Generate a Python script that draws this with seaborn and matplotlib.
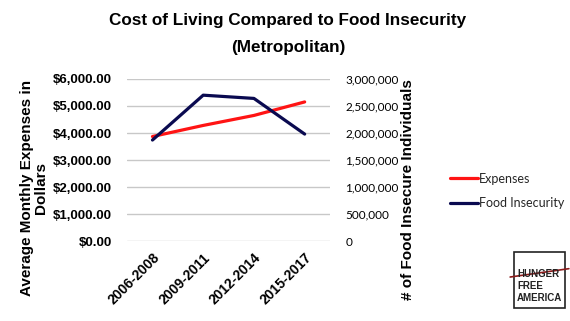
import matplotlib
matplotlib.use("Agg")
import matplotlib.pyplot as plt
import seaborn as sns
import pandas as pd
from matplotlib.patches import Rectangle
from matplotlib.lines import Line2D

periods = ["2006-2008", "2009-2011", "2012-2014", "2015-2017"]
expenses = [3870, 4280, 4650, 5150]
food_insecurity = [1870000, 2700000, 2640000, 1980000]
left_ticks = [0, 1000, 2000, 3000, 4000, 5000, 6000]
right_ticks = [0, 500000, 1000000, 1500000, 2000000, 2500000, 3000000]

sns.set_theme(style="white")
plt.rcParams['font.family'] = ['Liberation Sans', 'DejaVu Sans']

df = pd.DataFrame({"period": periods, "expenses": expenses, "food": food_insecurity})

fig = plt.figure(figsize=(5.7, 3.21), dpi=100)
ax = fig.add_axes([0.223, 0.249, 0.356, 0.505])
ax2 = ax.twinx()

red = "#ff1414"
navy = "#0a0a50"
sns.lineplot(data=df, x="period", y="expenses", ax=ax, color=red, lw=2.3, sort=False)
sns.lineplot(data=df, x="period", y="food", ax=ax2, color=navy, lw=2.3, sort=False)

ax.set_xlim(-0.5, 3.5)
ax.set_ylim(0, 6000)
ax2.set_ylim(0, 3000000)
ax.set_yticks(left_ticks)
ax.set_yticklabels([f"${v:,.2f}" for v in left_ticks], fontsize=9.5, fontweight="bold", color="black")
ax2.set_yticks(right_ticks)
ax2.set_yticklabels([f"{v:,}" for v in right_ticks], fontsize=8.5, color="black",
                    family=['Lato', 'DejaVu Sans'])
ax.set_xticks(range(len(periods)))
ax.set_xticklabels(periods, rotation=45, ha="right", rotation_mode="anchor", fontsize=10,
                   fontweight="bold", color="black")
ax.grid(axis="y", color="#c8c8c8", lw=1)
for a in (ax, ax2):
    for s in a.spines.values():
        s.set_visible(False)
ax.tick_params(axis="y", length=0, pad=11)
ax.tick_params(axis="x", length=0, pad=7)
ax2.tick_params(axis="y", length=0, pad=11)
ax.set_xlabel("")
ax.set_ylabel("Average Monthly Expenses in\nDollars", fontsize=11, fontweight="bold",
              linespacing=1.0, color="black")
ax2.set_ylabel("# of Food Insecure Individuals", fontsize=11, fontweight="bold", color="black")
ax.yaxis.set_label_coords(-0.39, 0.33)
ax2.yaxis.set_label_coords(1.35, 0.32)

fig.text(0.505, 0.935, "Cost of Living Compared to Food Insecurity",
         ha="center", va="center", fontsize=12.3, fontweight="bold", color="black")
fig.text(0.505, 0.852, "(Metropolitan)",
         ha="center", va="center", fontsize=12.3, fontweight="bold", color="black")

handles = [Line2D([], [], color=red, lw=2.3), Line2D([], [], color=navy, lw=2.3)]
fig.legend(handles, ["Expenses", "Food Insecurity"], loc="center left",
           bbox_to_anchor=(0.77, 0.405), frameon=False, handlelength=2.2,
           handletextpad=0.1, labelspacing=1.0, prop={'family': ['Lato'], 'size': 9})

# logo
fig.patches.append(Rectangle((0.902, 0.04), 0.090, 0.175, transform=fig.transFigure,
                             fill=False, edgecolor="#222222", lw=1.2))
for txt, yy in [("HUNGER", 0.146), ("FREE", 0.109), ("AMERICA", 0.072)]:
    fig.text(0.907, yy, txt, fontsize=7, fontweight="bold", color="#222222",
             family=['Liberation Sans'], va="center")
fig.lines.append(Line2D([0.895, 0.998], [0.137, 0.163], transform=fig.transFigure,
                        color="#8b1a1a", lw=1.2))

fig.savefig("out.png", dpi=100)
